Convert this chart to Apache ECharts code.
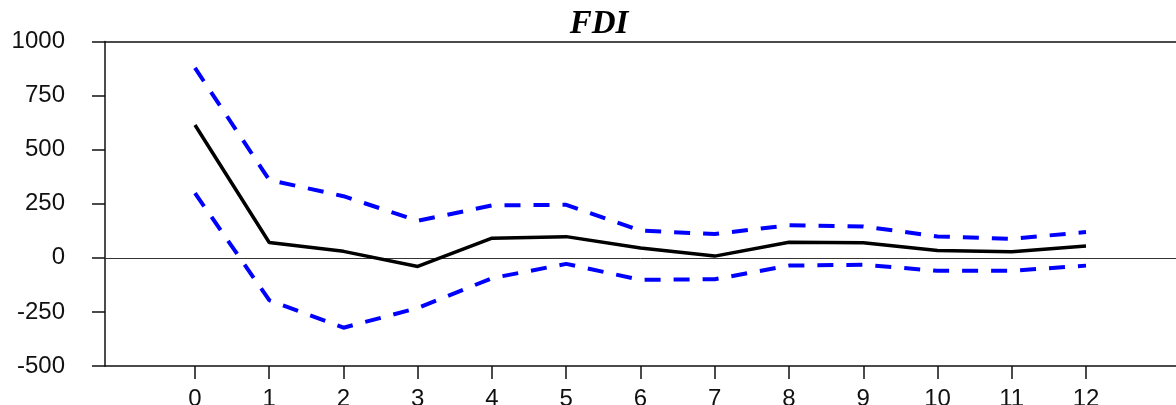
<!DOCTYPE html>
<html>
<head>
<meta charset="utf-8">
<style>html,body{margin:0;padding:0;background:#fff;}#c{width:1176px;height:405px;}</style>
<script src="https://cdn.jsdelivr.net/npm/echarts@6/dist/echarts.min.js"></script>
</head>
<body>
<div id="c"></div>
<script>
var periods = [0,1,2,3,4,5,6,7,8,9,10,11,12];
var response = [614, 71, 30, -40, 91, 98, 45, 8, 72, 70, 34, 28, 55];
var upperBand = [878, 360, 285, 171, 242, 245, 126, 110, 151, 145, 99, 88, 119];
var lowerBand = [299, -196, -323, -232, -94, -28, -102, -99, -36, -32, -60, -60, -36];
var yTicks = [-500, -250, 0, 250, 500, 750, 1000];

function pairs(vals){ return periods.map(function(p,i){ return [p, vals[i]]; }); }

var chart = echarts.init(document.getElementById('c'));
var axisColor = '#111';
chart.setOption({
  animation: false,
  backgroundColor: '#fff',
  title: {
    text: 'FDI',
    left: 594, top: 3, textAlign: 'center',
    textStyle: {fontFamily: 'Liberation Serif', fontStyle: 'italic', fontWeight: 'bold', fontSize: 33, color: '#000'}
  },
  grid: {left: 105, right: 0, top: 41.5, bottom: 39, containLabel: false, outerBoundsMode: 'none'},
  xAxis: [{
    type: 'value', min: -1.212, max: 13.212,
    axisLine: {show: true, onZero: false, lineStyle: {color: axisColor, width: 1.5}},
    axisTick: {show: true, customValues: periods, length: 13, lineStyle: {color: axisColor, width: 1.5}},
    axisLabel: {customValues: periods, margin: 21, fontFamily: 'Liberation Sans', fontSize: 24, color: '#111'},
    splitLine: {show: false}
  }, {
    type: 'value', position: 'top', min: -1.212, max: 13.212,
    axisLine: {show: true, onZero: false, lineStyle: {color: axisColor, width: 1.5}},
    axisTick: {show: false}, axisLabel: {show: false}, splitLine: {show: false}
  }],
  yAxis: {
    type: 'value', min: yTicks[0], max: yTicks[yTicks.length-1], interval: 250,
    axisLine: {show: true, onZero: false, lineStyle: {color: axisColor, width: 1.5}},
    axisTick: {show: true, length: 13, lineStyle: {color: axisColor, width: 1.5}},
    axisLabel: {margin: 40, fontFamily: 'Liberation Sans', fontSize: 24, color: '#111',
      formatter: function(v){ return String(v); }},
    splitLine: {show: false}
  },
  series: [{
    type: 'line', data: pairs(response), symbol: 'none',
    lineStyle: {color: '#000', width: 3.5}, z: 5,
    markLine: {silent: true, symbol: 'none', label: {show: false},
      lineStyle: {color: '#333', width: 1, type: 'solid'}, data: [{yAxis: 0}]}
  }, {
    type: 'line', data: pairs(upperBand), symbol: 'none',
    lineStyle: {color: '#0000ff', width: 4, type: [16, 13]}
  }, {
    type: 'line', data: pairs(lowerBand), symbol: 'none',
    lineStyle: {color: '#0000ff', width: 4, type: [16, 13]}
  }]
});
</script>
</body>
</html>
